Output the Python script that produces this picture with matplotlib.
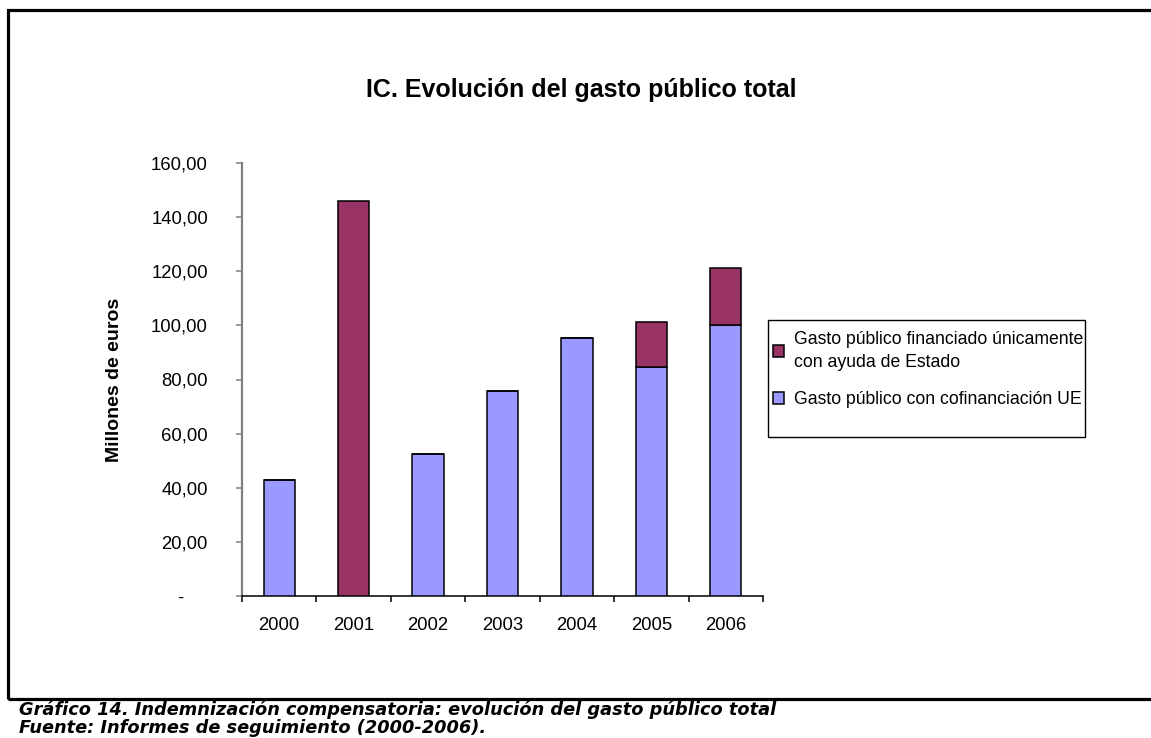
import matplotlib
matplotlib.use("Agg")
import matplotlib.pyplot as plt
from matplotlib.patches import Rectangle
from matplotlib.transforms import ScaledTranslation
import numpy as np

plt.rcParams['font.family'] = ['Liberation Sans', 'DejaVu Sans']

# ---- data ----
years = ["2000", "2001", "2002", "2003", "2004", "2005", "2006"]
cofin_ue = [42.8, 0.0, 52.5, 75.8, 95.3, 84.7, 100.3]
solo_estado = [0.0, 146.0, 0.0, 0.0, 0.0, 16.7, 20.9]
yticks = [0, 20, 40, 60, 80, 100, 120, 140, 160]
ytick_labels = ["-", "20,00", "40,00", "60,00", "80,00", "100,00", "120,00", "140,00", "160,00"]
label_estado = "Gasto público financiado únicamente\ncon ayuda de Estado"
label_ue = "Gasto público con cofinanciación UE"
title = "IC. Evolución del gasto público total"
ylabel = "Millones de euros"
caption1 = "Gráfico 14. Indemnización compensatoria: evolución del gasto público total"
caption2 = "Fuente: Informes de seguimiento (2000-2006)."

W, H = 1151, 738
fig = plt.figure(figsize=(W / 100, H / 100), dpi=100)

def fx(px):
    return px / W

def fy(py):
    return 1 - py / H

# outer frame
fig.add_artist(Rectangle((fx(8), fy(699)), fx(1170) - fx(8), fy(10) - fy(699),
                         transform=fig.transFigure, fill=False, lw=2.3, ec="black"))

ax = fig.add_axes([fx(242), fy(596), fx(763) - fx(242), fy(163) - fy(596)])

x = np.arange(len(years))
blue = "#9999FF"
red = "#993366"
bw = 0.42
ax.bar(x, cofin_ue, bw, color=blue, edgecolor="black", lw=1.1, label=label_ue, zorder=3)
ax.bar(x, solo_estado, bw, bottom=cofin_ue, color=red, edgecolor="black", lw=1.1,
       label=label_estado, zorder=3)

ax.set_xlim(-0.5, len(years) - 0.5)
ax.set_ylim(0, 160)

for s in ["top", "right"]:
    ax.spines[s].set_visible(False)
ax.spines["left"].set_color("#808080")
ax.spines["left"].set_linewidth(1.6)
ax.spines["bottom"].set_color("black")
ax.spines["bottom"].set_linewidth(1.1)

ax.set_yticks(yticks)
ax.set_yticklabels(ytick_labels)
ax.tick_params(axis="y", direction="out", length=4.5, width=1.1, color="#808080",
               labelsize=13.3, pad=20)
ax.set_xticks(x)
ax.set_xticklabels(years)
ax.set_xticks(np.arange(-0.5, len(years), 1.0), minor=True)
ax.tick_params(axis="x", which="major", length=0, labelsize=13.3, pad=15)
ax.tick_params(axis="x", which="minor", direction="out", length=4.5, width=1.1, color="black")

# zero label "-" placed at decimal-separator position (accounting format)
zlab = ax.get_yticklabels()[0]
zlab.set_transform(zlab.get_transform() + ScaledTranslation(-0.25, 0, fig.dpi_scale_trans))

ax.set_ylabel(ylabel, fontsize=14, fontweight="bold", labelpad=20)

fig.text(fx(581), fy(90), title, fontsize=18, fontweight="bold", ha="center", va="center")

# legend box
fig.add_artist(Rectangle((fx(768), fy(437)), fx(1085) - fx(768), fy(320) - fy(437),
                         transform=fig.transFigure, fill=False, lw=1.0, ec="black"))
handles, labels = ax.get_legend_handles_labels()
leg = ax.legend(handles[::-1], labels[::-1], loc="upper left",
                bbox_to_anchor=(fx(769), fy(327)), bbox_transform=fig.transFigure,
                frameon=False, fontsize=12.7, handlelength=0.65, handleheight=0.65,
                handletextpad=0.55, labelspacing=1.15, borderaxespad=0, borderpad=0.2)
for t in leg.get_texts():
    t.set_linespacing(1.5)

fig.text(fx(19), fy(715), caption1, fontsize=12.8, fontweight="bold", fontstyle="italic",
         family="DejaVu Sans", ha="left", va="baseline")
fig.text(fx(19), fy(733), caption2, fontsize=12.8, fontweight="bold", fontstyle="italic",
         family="DejaVu Sans", ha="left", va="baseline")

fig.savefig("out.png", dpi=100)
